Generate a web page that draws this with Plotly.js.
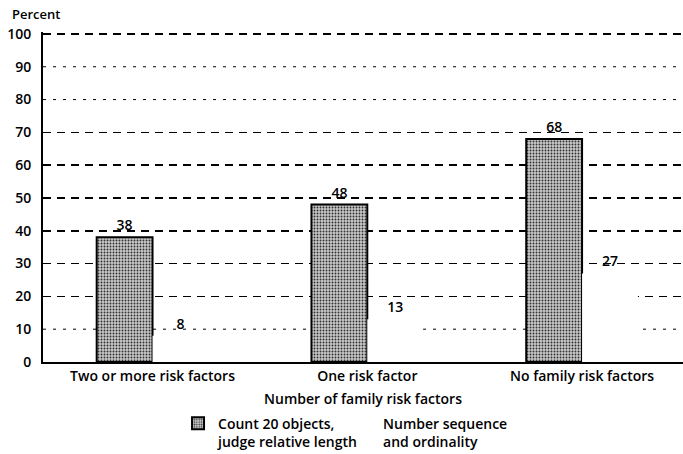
<!DOCTYPE html>
<html>
<head>
<meta charset="utf-8">
<script src="https://cdn.plot.ly/plotly-3.0.1.min.js"></script>
<style>html,body{margin:0;padding:0;background:#fff;}#chart{width:683px;height:454px;}</style>
</head>
<body>
<div id="chart"></div>
<script>
var categories = ["Two or more risk factors", "One risk factor", "No family risk factors"];
var seriesNames = ["Count 20 objects,<br>judge relative length", "Number sequence<br>and ordinality"];
var countValues = [38, 48, 68];
var sequenceValues = [8, 13, 27];
var yTickVals = [0, 10, 20, 30, 40, 50, 60, 70, 80, 90, 100];
var dashedGrid = [20, 30, 40, 50, 60, 70, 100];
var dottedGrid = [10, 80, 90];

var font = {family: "Open Sans, Liberation Sans, sans-serif", size: 14, color: "#000", weight: 600};

var traces = [
  {
    type: "bar", name: seriesNames[0], x: categories, y: countValues,
    text: countValues.map(String), textposition: "outside", cliponaxis: false,
    textfont: font,
    marker: {color: "#c0c0c0", line: {color: "#000", width: 2},
      pattern: {shape: ".", fgcolor: "#2e2e2e", bgcolor: "#c8c8c8", size: 3, solidity: 0.3}}
  },
  {
    type: "bar", name: seriesNames[1], x: categories, y: sequenceValues,
    text: sequenceValues.map(String), textposition: "outside", cliponaxis: false,
    textfont: font,
    marker: {color: "#ffffff", line: {width: 0}}
  }
];

var shapes = dottedGrid.map(function (v) {
  return {type: "line", xref: "paper", x0: 0, x1: 1, yref: "y", y0: v, y1: v, layer: "below",
    line: {color: "#000", width: 1, dash: "3px,7px"}};
});

var layout = {
  width: 683, height: 454,
  margin: {l: 43, r: 0, t: 32, b: 92, autoexpand: false},
  paper_bgcolor: "#fff", plot_bgcolor: "#fff",
  font: font,
  barmode: "group", bargap: 0.48, bargroupgap: 0,
  showlegend: true,
  legend: {orientation: "h", x: 0.211, xanchor: "left", yref: "container", y: 0.102, yanchor: "top",
    font: font, valign: "top", entrywidth: 120, entrywidthmode: "pixels",
    itemwidth: 30, tracegroupgap: 0},
  xaxis: {
    range: [-0.51, 2.47], showgrid: false, zeroline: false,
    showline: true, linecolor: "#000", linewidth: 2,
    ticks: "", tickfont: font, fixedrange: true,
    title: {text: "Number of family risk factors", font: font, standoff: 12}
  },
  yaxis: {
    range: [0, 100.6], tickmode: "array", tickvals: yTickVals, ticktext: yTickVals.map(String),
    showgrid: false, zeroline: false, showline: true, linecolor: "#000", linewidth: 2,
    ticks: "outside", ticklen: 7, tickcolor: "rgba(0,0,0,0)", tickfont: font,
    minor: {tickmode: "array", tickvals: dashedGrid, showgrid: true, gridcolor: "#000",
      gridwidth: 1.5, griddash: "8px,6px", ticks: ""},
    fixedrange: true
  },
  shapes: shapes,
  annotations: [
    {text: "Percent", xref: "paper", yref: "paper", x: -0.0516, y: 1.0545,
     xanchor: "left", yanchor: "middle", showarrow: false, font: {family: font.family, size: 13, color: "#000", weight: 600}}
  ]
};

Plotly.newPlot("chart", traces, layout, {displayModeBar: false, staticPlot: true});
</script>
</body>
</html>
